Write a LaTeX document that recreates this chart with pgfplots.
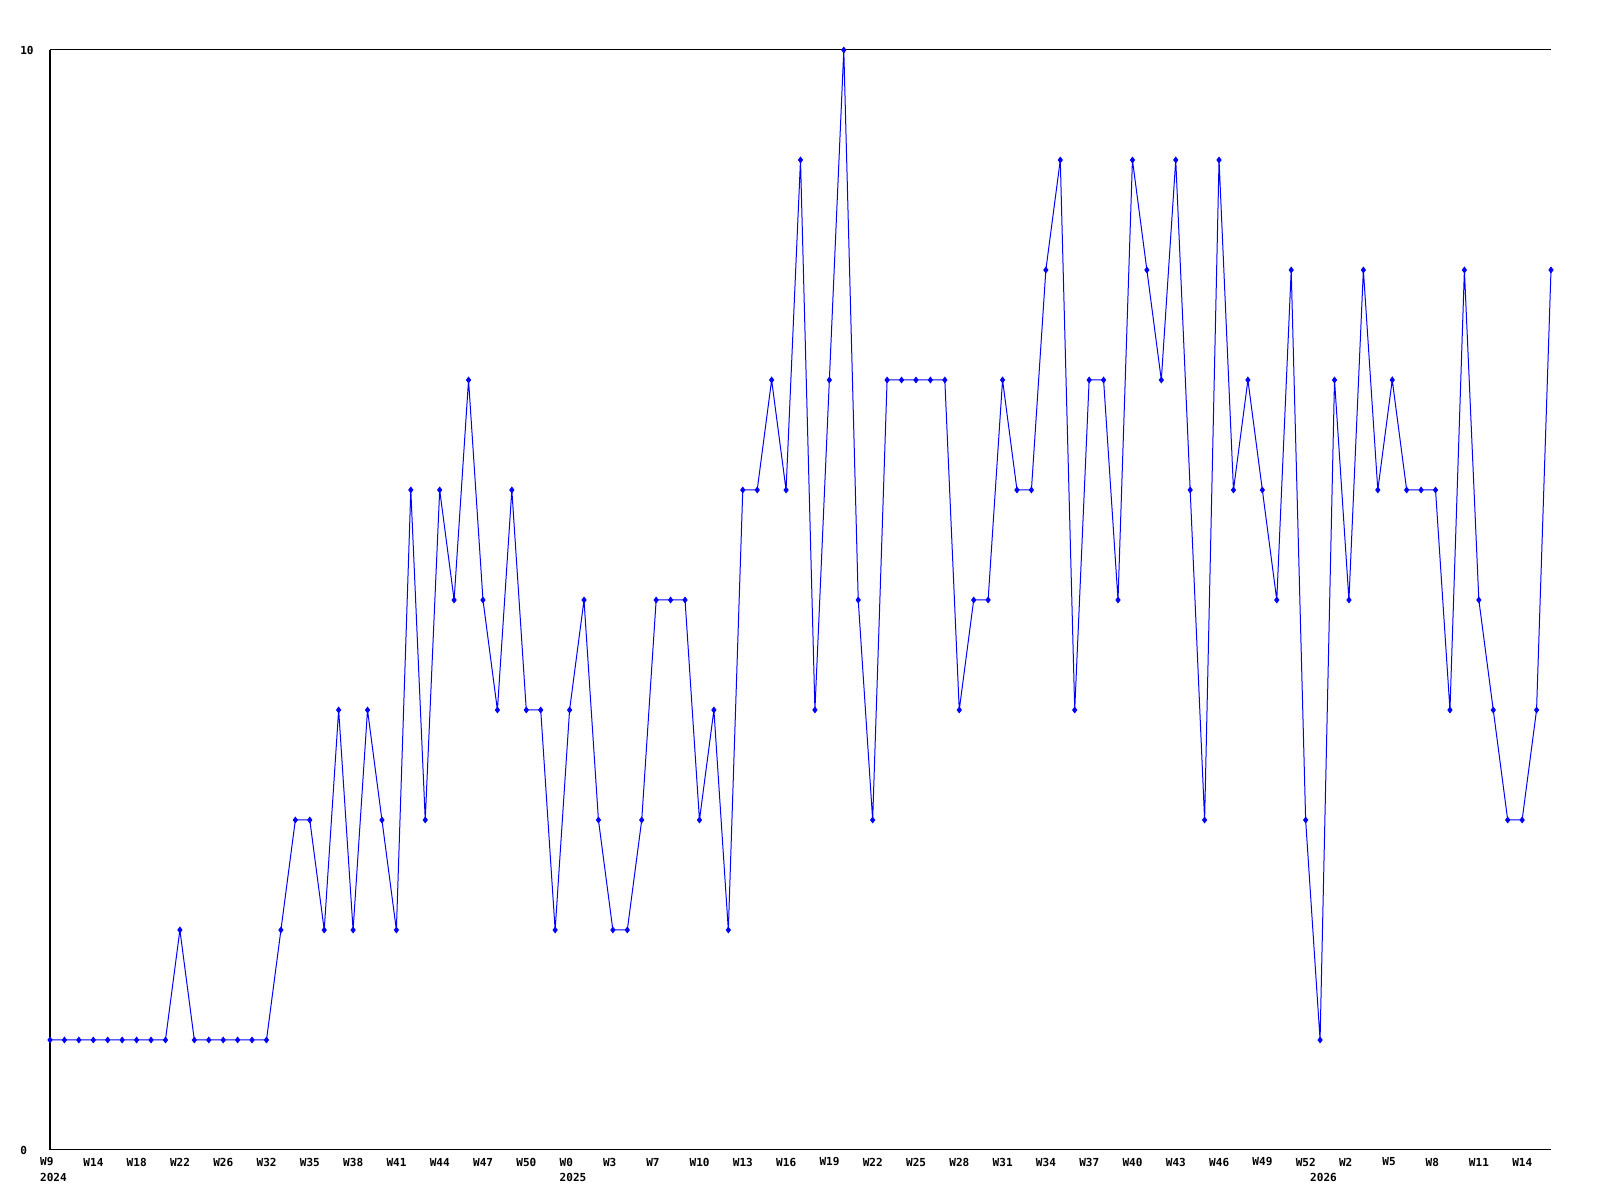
\documentclass[border=0pt]{standalone}
\usepackage{fontspec}
\setmainfont{DejaVu Sans Mono}
\usepackage{pgfplots}
\pgfplotsset{compat=1.18}
\usepackage{pgfplotstable}

% weekly counts, one row per plotted week
\pgfplotstableread{
i v
0 1
1 1
2 1
3 1
4 1
5 1
6 1
7 1
8 1
9 2
10 1
11 1
12 1
13 1
14 1
15 1
16 2
17 3
18 3
19 2
20 4
21 2
22 4
23 3
24 2
25 6
26 3
27 6
28 5
29 7
30 5
31 4
32 6
33 4
34 4
35 2
36 4
37 5
38 3
39 2
40 2
41 3
42 5
43 5
44 5
45 3
46 4
47 2
48 6
49 6
50 7
51 6
52 9
53 4
54 7
55 10
56 5
57 3
58 7
59 7
60 7
61 7
62 7
63 4
64 5
65 5
66 7
67 6
68 6
69 8
70 9
71 4
72 7
73 7
74 5
75 9
76 8
77 7
78 9
79 6
80 3
81 9
82 6
83 7
84 6
85 5
86 8
87 3
88 1
89 7
90 5
91 8
92 6
93 7
94 6
95 6
96 6
97 4
98 8
99 5
100 4
101 3
102 3
103 4
104 8
}\weekly

\begin{document}
\begin{tikzpicture}
\path[use as bounding box] (0,0) rectangle (1200pt,900pt);
\begin{axis}[at={(37.5pt,37.5pt)},anchor=south west,
 scale only axis,width=1125.75pt,height=825pt,
 xmin=0,xmax=104,ymin=0,ymax=10,clip=false,
 axis x line*=bottom,axis y line*=left,
 axis line style={-,black,line width=0.75pt},
 major tick length=0pt,
 xtick={0,3,...,102},
 xticklabels={W9,W14,W18,W22,W26,W32,W35,W38,W41,W44,W47,W50,
  W0,W3,W7,W10,W13,W16,W19,W22,W25,W28,W31,W34,W37,W40,W43,W46,W49,W52,
  W2,W5,W8,W11,W14},
 extra x ticks={0,36,88},
 extra x tick labels={2024,2025,2026},
 extra x tick style={major tick length=0pt,tick label style={yshift=-11.25pt}},
 ytick={0,10},
 /pgf/number format/assume math mode=true,
 tick label style={font=\fontsize{8.3}{10}\selectfont\bfseries,inner sep=0pt},
 xticklabel style={anchor=west,xshift=-7.6pt,yshift=-9pt},
 yticklabel style={anchor=west,xshift=-22.5pt},
]
\addplot[color={rgb,255:red,0;green,0;blue,255},line width=0.75pt,
 mark=diamond*,mark size=2pt] table[x=i,y=v] {\weekly};
\draw[black,line width=0.75pt] (rel axis cs:0,1) -- (rel axis cs:1,1);
\end{axis}
\end{tikzpicture}
\end{document}
